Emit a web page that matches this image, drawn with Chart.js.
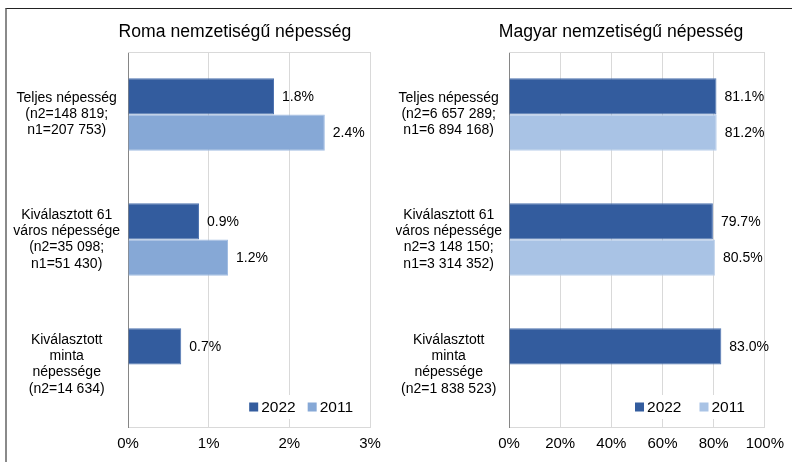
<!DOCTYPE html>
<html>
<head>
<meta charset="utf-8">
<script src="https://cdn.jsdelivr.net/npm/chart.js@4/dist/chart.umd.min.js"></script>
<style>
  html, body { margin: 0; padding: 0; background: #fff; }
  #wrap { position: relative; width: 792px; height: 462px; overflow: hidden; background: #fff; }
  #frame { position: absolute; left: 5px; top: 8px; width: 800px; height: 470px;
           border-top: 1px solid #222; border-left: 2px solid #8a8a8a; box-sizing: border-box; }
  canvas { position: absolute; top: 0; }
</style>
</head>
<body>
<div id="wrap">
  <div id="frame"></div>
  <canvas id="c1" width="396" height="462" style="left:0px"></canvas>
  <canvas id="c2" width="396" height="462" style="left:396px"></canvas>
</div>
<script>
// ---- data ----
const seriesNames = ["2022", "2011"];

const romaTitle = "Roma nemzetiségű népesség";
const romaCategories = [
  ["Teljes népesség", "(n2=148 819;", "n1=207 753)"],
  ["Kiválasztott 61", "város népessége", "(n2=35 098;", "n1=51 430)"],
  ["Kiválasztott", "minta", "népessége", "(n2=14 634)"]
];
const roma2022 = [1.81, 0.88, 0.66];
const roma2011 = [2.44, 1.24, null];
const romaTicks = [0, 1, 2, 3];

const magyarTitle = "Magyar nemzetiségű népesség";
const magyarCategories = [
  ["Teljes népesség", "(n2=6 657 289;", "n1=6 894 168)"],
  ["Kiválasztott 61", "város népessége", "n2=3 148 150;", "n1=3 314 352)"],
  ["Kiválasztott", "minta", "népessége", "(n2=1 838 523)"]
];
const magyar2022 = [81.1, 79.7, 83.0];
const magyar2011 = [81.2, 80.5, null];
const magyarTicks = [0, 20, 40, 60, 80, 100];

// ---- styling ----
Chart.defaults.font.family = "'Liberation Sans', Arial, sans-serif";
Chart.defaults.color = '#000';
const FONT = "'Liberation Sans', Arial, sans-serif";
const DARK = '#335C9E';

const panelPlugin = {
  id: 'panelPlugin',
  beforeDatasetsDraw(chart, args, opts) {
    const ca = chart.chartArea, ctx = chart.ctx;
    ctx.save();
    ctx.strokeStyle = '#D9D9D9';
    ctx.lineWidth = 1;
    ctx.beginPath();
    ctx.moveTo(ca.left, Math.round(ca.top) + 0.5);
    ctx.lineTo(ca.right, Math.round(ca.top) + 0.5);
    ctx.stroke();
    ctx.restore();
  },
  afterDatasetsDraw(chart, args, opts) {
    const ctx = chart.ctx, ca = chart.chartArea;
    ctx.save();
    // data labels
    ctx.font = '14px ' + FONT;
    ctx.fillStyle = '#000';
    ctx.textAlign = 'left';
    ctx.textBaseline = 'middle';
    chart.data.datasets.forEach((ds, di) => {
      const meta = chart.getDatasetMeta(di);
      meta.data.forEach((el, i) => {
        const v = ds.data[i];
        if (v === null || v === undefined) return;
        ctx.fillText(v.toFixed(1) + '%', el.x + opts.labelOffset, el.y + 1);
      });
    });
    // legend inside plot area
    ctx.font = '15.5px ' + FONT;
    const box = 9, gapBox = 3, gapItem = opts.itemGap;
    const items = chart.data.datasets.map(ds => ({ text: ds.label, color: ds.backgroundColor }));
    let total = 0;
    items.forEach((it, i) => {
      it.w = ctx.measureText(it.text).width;
      total += box + gapBox + it.w + (i < items.length - 1 ? gapItem : 0);
    });
    const cy = ca.bottom - 20;
    let x = ca.right - opts.legendRight - total;
    ctx.fillStyle = '#fff';
    ctx.fillRect(x - 4, cy - 12, total + 8, 24);
    items.forEach((it) => {
      ctx.fillStyle = it.color;
      ctx.fillRect(x, cy - 4.5, box, box);
      x += box + gapBox;
      ctx.fillStyle = '#000';
      ctx.textBaseline = 'middle';
      ctx.fillText(it.text, x, cy + 1);
      x += it.w + gapItem;
    });
    // title
    ctx.font = '17.6px ' + FONT;
    ctx.textAlign = 'center';
    ctx.textBaseline = 'alphabetic';
    ctx.fillStyle = '#000';
    ctx.fillText(opts.title, opts.titleX, 37);
    ctx.restore();
  }
};

function makeChart(canvasId, title, titleX, cats, s2022, s2011, color2011, border2011, maxV, step, yWidth, yPad, rightPad, legendRight, itemGap) {
  return new Chart(document.getElementById(canvasId), {
    type: 'bar',
    data: {
      labels: cats,
      datasets: [
        { label: seriesNames[0], data: s2022, backgroundColor: DARK, borderColor: '#4F74B0', borderWidth: 1,
          categoryPercentage: 0.58, barPercentage: 1.0 },
        { label: seriesNames[1], data: s2011, backgroundColor: color2011, borderColor: border2011, borderWidth: 1,
          categoryPercentage: 0.58, barPercentage: 1.0 }
      ]
    },
    options: {
      indexAxis: 'y',
      responsive: false,
      animation: false,
      devicePixelRatio: 1,
      layout: { padding: { top: 52, right: rightPad, bottom: 0, left: 0 } },
      plugins: {
        legend: { display: false },
        title: { display: false },
        tooltip: { enabled: false },
        panelPlugin: { title: title, titleX: titleX, labelOffset: 8, legendRight: legendRight, itemGap: itemGap }
      },
      scales: {
        x: {
          min: 0, max: maxV,
          ticks: { stepSize: step, padding: 8, font: { size: 15 }, color: '#000',
                   callback: (v) => v + '%' },
          grid: { color: '#D9D9D9', drawTicks: false, lineWidth: 1 },
          border: { color: '#D9D9D9', width: 1 },
          afterFit: (s) => { s.height = 35; }
        },
        y: {
          ticks: { padding: yPad, crossAlign: 'center', font: { size: 14, lineHeight: 1.15 }, color: '#000', autoSkip: false },
          grid: { display: false, drawTicks: false },
          border: { display: true, color: '#868686', width: 1 },
          afterFit: (s) => { s.width = yWidth; }
        }
      }
    },
    plugins: [panelPlugin]
  });
}

makeChart('c1', romaTitle, 235, romaCategories, roma2022, roma2011, '#86A8D6', '#A3BEE3',
          romaTicks[romaTicks.length - 1], romaTicks[1] - romaTicks[0], 128, 8, 26, 17, 12);
makeChart('c2', magyarTitle, 621 - 396, magyarCategories, magyar2022, magyar2011, '#A9C3E5', '#BDD1EC',
          magyarTicks[magyarTicks.length - 1], magyarTicks[1] - magyarTicks[0], 113, 7, 23, 20, 18);
</script>
</body>
</html>
